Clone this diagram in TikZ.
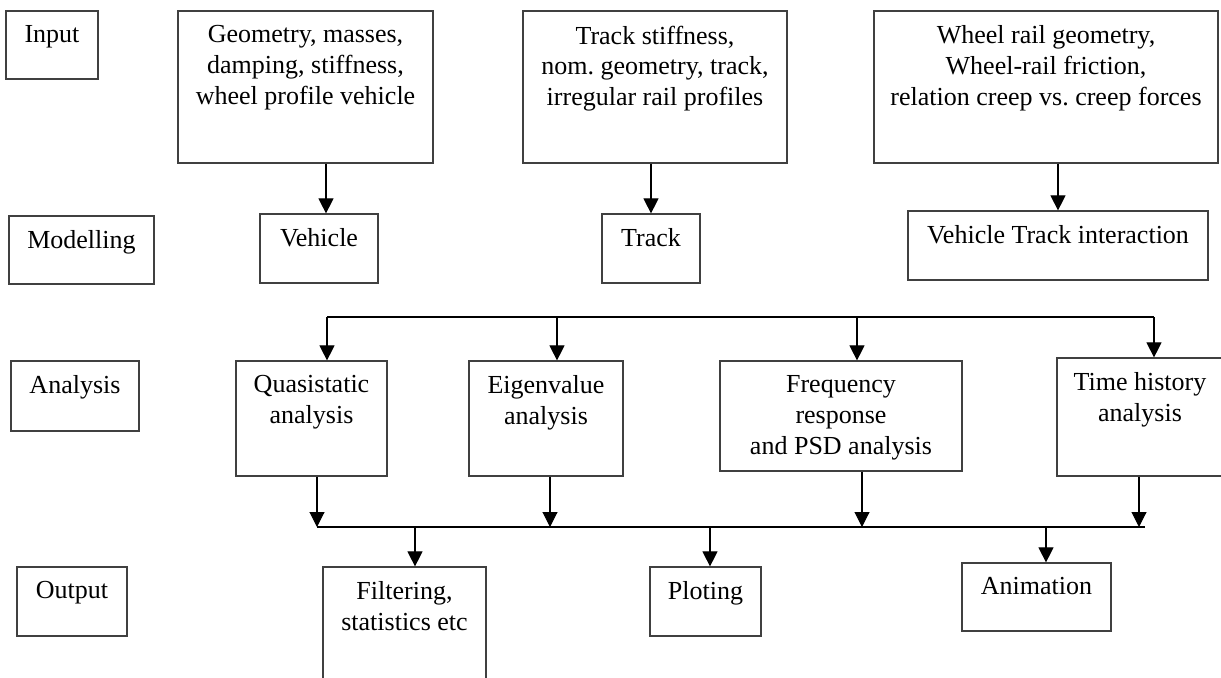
\documentclass[tikz,border=0pt]{standalone}
\usepackage{fontspec}
\setmainfont{Liberation Serif}
\usetikzlibrary{positioning,arrows.meta}
\frenchspacing

\begin{document}
\begin{tikzpicture}[
    x=0.02cm, y=-0.02cm,
    box/.style={draw=black!75, line width=0.7pt, inner sep=0pt},
    txt/.style={inner sep=0pt, align=center, font=\fontsize{14.8}{17.6}\selectfont},
    arr/.style={-{Triangle[length=0.3cm, width=0.3cm]}, line width=0.6pt},
    bus/.style={line width=0.6pt}
]
    \useasboundingbox (0,0) rectangle (1221,677);

    % Row names
    \node[box, minimum width=1.84cm, minimum height=1.36cm] (inp) at (52,45) {};
    \node[box, minimum width=2.90cm, minimum height=1.36cm] (modl) at (81.5,250) {};
    \node[box, minimum width=2.56cm, minimum height=1.40cm] (anal) at (75,396) {};
    \node[box, minimum width=2.20cm, minimum height=1.38cm] (outp) at (72,601.5) {};
    \node[txt, below=3mm of inp.north] (inptxt) {Input};
    \node[txt, below=3mm of modl.north] (modltxt) {Modelling};
    \node[txt, below=3mm of anal.north] (analtxt) {Analysis};
    \node[txt, below=3mm of outp.north] (outptxt) {Output};

    % Input
    \node[box, minimum width=5.10cm, minimum height=3.04cm] (geo) at (305.5,87) {};
    \node[box, minimum width=5.28cm, minimum height=3.04cm] (trkin) at (655,87) {};
    \node[box, minimum width=6.88cm, minimum height=3.04cm] (whl) at (1046,87) {};
    \node[txt, below=3mm of geo.north] (geotxt) {Geometry, masses,\\damping, stiffness,\\wheel profile vehicle};
    \node[txt, below=3mm of trkin.north] (trkintxt) {Track stiffness,\\nom. geometry, track,\\irregular rail profiles};
    \node[txt, below=3mm of whl.north] (whltxt) {Wheel rail geometry,\\Wheel-rail friction,\\relation creep vs. creep forces};

    % Modelling
    \node[box, minimum width=2.36cm, minimum height=1.38cm] (veh) at (319,248.5) {};
    \node[box, minimum width=1.96cm, minimum height=1.38cm] (trk) at (651,248.5) {};
    \node[box, minimum width=6.00cm, minimum height=1.38cm] (vti) at (1058,245.5) {};
    \node[txt, below=3mm of veh.north] (vehtxt) {Vehicle};
    \node[txt, below=3mm of trk.north] (trktxt) {Track};
    \node[txt, below=3mm of vti.north] (vtitxt) {Vehicle Track interaction};

    \draw[arr] ([xshift=0.14cm]veh.north |- geo.south) -- ([xshift=0.14cm]veh.north);
    \draw[arr] (trk.north |- trkin.south) -- (trk.north);
    \draw[arr] (vti.north |- whl.south) -- (vti.north);

    % Analysis
    \node[box, minimum width=3.02cm, minimum height=2.30cm] (qs) at (311.5,418.5) {};
    \node[box, minimum width=3.08cm, minimum height=2.30cm] (eig) at (546,418.5) {};
    \node[box, minimum width=4.84cm, minimum height=2.20cm] (frq) at (841,416) {};
    \node[box, minimum width=3.32cm, minimum height=2.36cm] (tha) at (1140,417) {};
    \node[txt, below=3mm of qs.north] (qstxt) {Quasistatic\\analysis};
    \node[txt, below=3mm of eig.north] (eigtxt) {Eigenvalue\\analysis};
    \node[txt, below=3mm of frq.north] (frqtxt) {Frequency\\response\\and PSD analysis};
    \node[txt, below=3mm of tha.north] (thatxt) {Time history\\analysis};

    \coordinate (t1) at (327,317);
    \coordinate (t2) at (557,317);
    \coordinate (t3) at (857,317);
    \coordinate (t4) at (1154,317);
    \draw[bus] (t1) -- (t4);
    \draw[arr] (t1) -- (t1 |- qs.north);
    \draw[arr] (t2) -- (t2 |- eig.north);
    \draw[arr] (t3) -- (t3 |- frq.north);
    \draw[arr] (t4) -- (t4 |- tha.north);

    \coordinate (b1) at (317,527);
    \coordinate (b2) at (550,527);
    \coordinate (b3) at (862,527);
    \coordinate (b4) at (1139,527);
    \coordinate (bend) at (1145,527);
    \draw[bus] (b1) -- (bend);
    \draw[arr] (b1 |- qs.south) -- (b1);
    \draw[arr] (b2 |- eig.south) -- (b2);
    \draw[arr] (b3 |- frq.south) -- (b3);
    \draw[arr] (b4 |- tha.south) -- (b4);

    % Output
    \node[box, minimum width=3.26cm, minimum height=2.66cm] (flt) at (404.5,633.5) {};
    \node[box, minimum width=2.22cm, minimum height=1.38cm] (plt) at (705.5,601.5) {};
    \node[box, minimum width=2.98cm, minimum height=1.36cm] (ani) at (1036.5,597) {};
    \node[txt, below=3mm of flt.north] (flttxt) {Filtering,\\statistics etc};
    \node[txt, below=3mm of plt.north] (plttxt) {Ploting};
    \node[txt, below=3mm of ani.north] (anitxt) {Animation};

    \coordinate (o1) at (415,527);
    \coordinate (o2) at (710,527);
    \coordinate (o3) at (1046,527);
    \draw[arr] (o1) -- (o1 |- flt.north);
    \draw[arr] (o2) -- (o2 |- plt.north);
    \draw[arr] (o3) -- (o3 |- ani.north);
\end{tikzpicture}
\end{document}
